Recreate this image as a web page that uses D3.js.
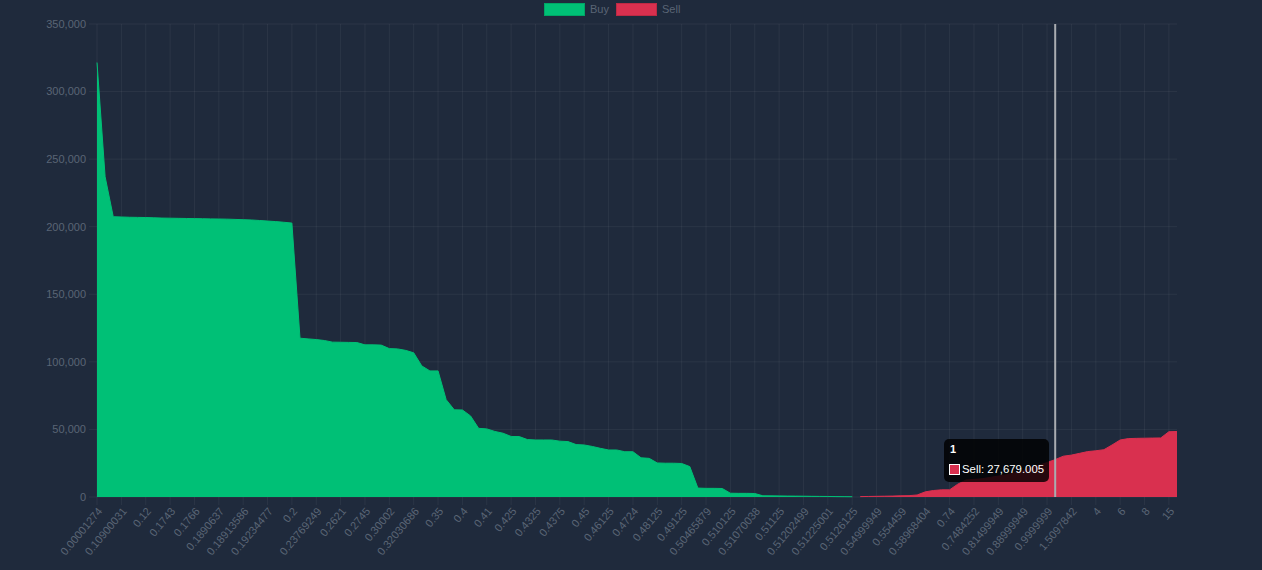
<!DOCTYPE html>
<html>
<head>
<meta charset="utf-8">
<script src="https://cdn.jsdelivr.net/npm/d3@7"></script>
<style>
  html, body { margin: 0; padding: 0; background: #1f2a3c; }
  svg { display: block; font-family: "Liberation Sans", Arial, Helvetica, sans-serif; }
</style>
</head>
<body>
<svg id="chart" width="1262" height="570"></svg>
<script>
// ---- data ----
const tickLabels = ["0.00001274","0.10900031","0.12","0.1743","0.1766","0.1890637","0.18913586","0.19234477","0.2","0.23769249",
  "0.2621","0.2745","0.30002","0.32030686","0.35","0.4","0.41","0.425","0.4325","0.4375",
  "0.45","0.46125","0.4724","0.48125","0.49125","0.50465879","0.510125","0.51070038","0.51125","0.51202499",
  "0.51225001","0.5126125","0.54999949","0.554459","0.58968404","0.74","0.7484252","0.81499949","0.88999949","0.9999999",
  "1.5097842","4","6","8","15"];
const tickEvery = 3;
const pointCount = 134;

// Buy cumulative volume (price points 0..93)
const buyValues = [321500,237000,207400,207200,207000,206900,206800,206600,206400,206300,
  206200,206100,206000,205900,205800,205700,205600,205400,205200,205000,
  204600,204200,203800,203300,202700,117500,117000,116500,115800,114600,
  114500,114400,114300,112600,112600,112400,109800,109600,108500,106700,
  97000,93300,93300,72000,64500,64400,60000,50800,50400,48500,
  47200,44800,44700,42500,42200,42200,42200,41300,41000,38800,
  38500,37400,36000,34800,34800,33500,33500,29000,28600,25200,
  25000,25000,24800,22500,6600,6400,6400,6300,2800,2700,
  2700,2600,900,850,800,700,650,600,500,450,
  400,300,250,200];
// Sell cumulative volume (price points 94..133)
const sellValues = [300,400,500,600,700,900,1000,1500,3800,4800,
  5300,5300,9500,12500,13000,13500,14500,15500,16500,18000,
  19500,21500,23500,25500,27679.005,30200,31000,32300,33600,34200,
  35000,38500,42200,43200,43400,43500,43600,43700,48300,48500];
const sellStart = 94;
const yTicks = [0,50000,100000,150000,200000,250000,300000,350000];
const seriesNames = ["Buy","Sell"];
const seriesColors = ["#00c076","#d9304f"];
const hover = { index: 118, label: "1", series: "Sell" };

(function draw() {
  const svg = d3.select("#chart");
  const pL = 97, pR = 1177, pT = 24, pB = 497;
  const x = d3.scaleLinear().domain([0, pointCount - 1]).range([pL, pR]);
  const y = d3.scaleLinear().domain([0, 350000]).range([pB, pT]);
  const gridColor = "rgba(255,255,255,0.055)";
  const textColor = "#5a6575";

  const buy = buyValues.map((v, i) => ({ i, v }));
  const sell = sellValues.map((v, k) => ({ i: sellStart + k, v }));

  // grid lines
  const gGrid = svg.append("g");
  yTicks.forEach(t => {
    gGrid.append("line").attr("x1", pL - 8).attr("x2", pR)
      .attr("y1", y(t)).attr("y2", y(t)).attr("stroke", gridColor).attr("stroke-width", 1);
  });
  tickLabels.forEach((lab, k) => {
    const xi = x(k * tickEvery);
    gGrid.append("line").attr("x1", xi).attr("x2", xi)
      .attr("y1", pT).attr("y2", pB + 8).attr("stroke", gridColor).attr("stroke-width", 1);
  });

  // y labels
  const gY = svg.append("g");
  yTicks.forEach(t => {
    gY.append("text").attr("x", pL - 11).attr("y", y(t)).attr("dy", "0.35em")
      .attr("text-anchor", "end").attr("fill", textColor).attr("font-size", 11)
      .text(d3.format(",")(t));
  });

  // x labels
  const gX = svg.append("g");
  tickLabels.forEach((lab, k) => {
    const xi = x(k * tickEvery);
    gX.append("text")
      .attr("transform", `translate(${xi + 3},${pB + 12}) rotate(-50)`)
      .attr("text-anchor", "end").attr("dy", "0.35em")
      .attr("fill", textColor).attr("font-size", 11)
      .text(lab);
  });

  // areas
  const area = d3.area().x(d => x(d.i)).y0(y(0)).y1(d => y(d.v));
  const line = d3.line().x(d => x(d.i)).y(d => y(d.v));
  [[buy, 0], [sell, 1]].forEach(([data, s]) => {
    svg.append("path").datum(data).attr("d", area).attr("fill", seriesColors[s]);
    svg.append("path").datum(data).attr("d", line).attr("fill", "none")
      .attr("stroke", seriesColors[s]).attr("stroke-width", 1);
  });

  // legend
  const legend = svg.append("g");
  const legendItems = [{ x: 544, name: seriesNames[0], c: seriesColors[0] }, { x: 616, name: seriesNames[1], c: seriesColors[1] }];
  legendItems.forEach(it => {
    legend.append("rect").attr("x", it.x + 0.5).attr("y", 3.5).attr("width", 40).attr("height", 12)
      .attr("fill", it.c).attr("stroke", d3.color(it.c).darker(0.4)).attr("stroke-width", 1);
    legend.append("text").attr("x", it.x + 46).attr("y", 9.5).attr("dy", "0.35em")
      .attr("fill", textColor).attr("font-size", 11).text(it.name);
  });

  // crosshair
  const hx = x(hover.index);
  svg.append("line").attr("x1", hx).attr("x2", hx).attr("y1", pT).attr("y2", pB)
    .attr("stroke", "#a9acb1").attr("stroke-width", 2);
  const hv = sellValues[hover.index - sellStart];

  // tooltip
  const tip = svg.append("g");
  tip.append("rect").attr("x", 944).attr("y", 439).attr("width", 105).attr("height", 43)
    .attr("rx", 5).attr("fill", "rgba(0,0,0,0.82)");
  tip.append("text").attr("x", 950).attr("y", 453).attr("fill", "#fff")
    .attr("font-size", 11).attr("font-weight", "bold").text(hover.label);
  tip.append("rect").attr("x", 949.5).attr("y", 464.5).attr("width", 10).attr("height", 10)
    .attr("fill", seriesColors[1]).attr("stroke", "#fff").attr("stroke-width", 1);
  tip.append("text").attr("x", 962).attr("y", 473).attr("fill", "#fff")
    .attr("font-size", 10).attr("textLength", 82).attr("lengthAdjust", "spacingAndGlyphs")
    .text(`${hover.series}: ${d3.format(",.3f")(hv)}`);
})();
</script>
</body>
</html>
